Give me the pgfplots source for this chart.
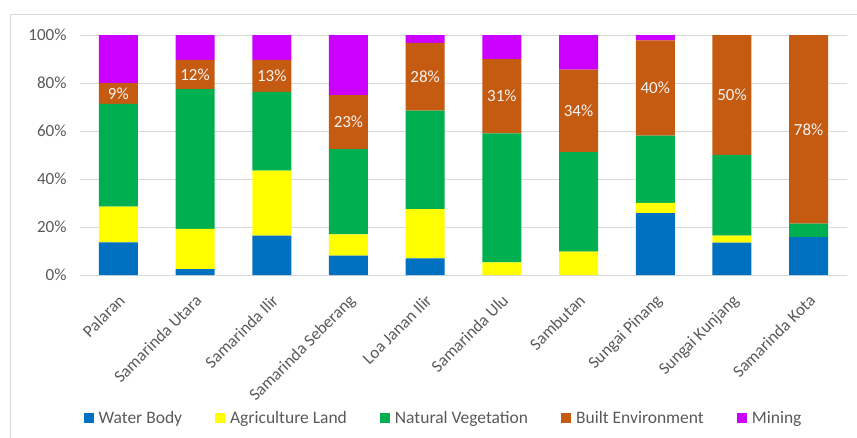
\documentclass[border=0pt]{standalone}
\usepackage{fontspec}
\setmainfont{Carlito}
\usepackage{pgfplots}
\pgfplotsset{compat=1.18}
\definecolor{cwater}{HTML}{0070C0}
\definecolor{cagri}{HTML}{FFFF00}
\definecolor{cveg}{HTML}{00B050}
\definecolor{cbuilt}{HTML}{C55A11}
\definecolor{cmine}{HTML}{CC00FF}
\definecolor{tickc}{HTML}{595959}
\definecolor{gridc}{HTML}{D9D9D9}
\begin{document}
\begin{tikzpicture}
\useasboundingbox (0,0) rectangle (857pt,437pt);
\draw[color=gridc, line width=1pt] (10pt,-5pt) -- (10pt,422pt) -- (862pt,422pt);
\begin{axis}[
  at={(80pt,162pt)}, anchor=south west,
  scale only axis, width=767pt, height=240pt,
  ybar stacked, bar width=39pt,
  xmin=-0.5, xmax=9.5, ymin=0, ymax=100,
  xtick={0,1,2,3,4,5,6,7,8,9},
  xticklabels={Palaran,Samarinda Utara,Samarinda Ilir,Samarinda Seberang,Loa Janan Ilir,Samarinda Ulu,Sambutan,Sungai Pinang,Sungai Kunjang,Samarinda Kota},
  ytick={0,20,40,60,80,100},
  yticklabel={\pgfmathprintnumber[assume math mode=true]{\tick}\%},
  ymajorgrids, grid style={color=gridc, line width=1pt},
  axis line style={draw=none}, major tick length=0pt,
  tick label style={font=\fontsize{17}{20}\selectfont, text=tickc},
  yticklabel style={xshift=-10pt},
  xticklabel style={rotate=45, anchor=north east, yshift=-9pt, xshift=-10pt},
  legend image code/.code={\fill[#1] (0pt,-5pt) rectangle (10pt,5pt);},
  legend columns=5,
  legend style={at={(0.474,-0.596)}, anchor=center, draw=none, fill=none,
    font=\fontsize{17.5}{20}\selectfont, text=tickc,
    /tikz/every odd column/.append style={column sep=3pt},
    /tikz/every even column/.append style={column sep=31pt}},
]
\addplot[fill=cwater, draw=none] coordinates {(0,13.6) (1,2.5) (2,16.4) (3,8.1) (4,6.9) (5,0) (6,0) (7,25.8) (8,13.5) (9,15.8)};
\addplot[fill=cagri, draw=none] coordinates {(0,14.9) (1,16.7) (2,27.1) (3,8.8) (4,20.6) (5,5.3) (6,9.7) (7,4.3) (8,2.9) (9,0)};
\addplot[fill=cveg, draw=none] coordinates {(0,42.8) (1,58.2) (2,32.8) (3,35.5) (4,41.0) (5,53.7) (6,41.5) (7,28.0) (8,33.7) (9,5.6)};
\addplot[fill=cbuilt, draw=none] coordinates {(0,8.7) (1,12.2) (2,13.3) (3,22.6) (4,28.2) (5,31.0) (6,34.4) (7,39.7) (8,49.9) (9,78.6)};
\addplot[fill=cmine, draw=none] coordinates {(0,20.0) (1,10.4) (2,10.4) (3,25.0) (4,3.3) (5,10.0) (6,14.4) (7,2.2) (8,0) (9,0)};
\legend{Water Body,Agriculture Land,Natural Vegetation,Built Environment,Mining}
\end{axis}
\begin{axis}[
  at={(80pt,162pt)}, anchor=south west,
  scale only axis, width=767pt, height=240pt,
  xmin=-0.5, xmax=9.5, ymin=0, ymax=100, hide axis,
]
\addplot[only marks, mark=*, mark size=0pt, mark options={draw=none, fill=none},
  nodes near coords, point meta=explicit symbolic,
  every node near coord/.append style={anchor=center, text=white!92!gray, font=\fontsize{17}{20}\selectfont}]
  coordinates {(0,75.65)[9\%] (1,83.5)[12\%] (2,82.95)[13\%] (3,63.7)[23\%] (4,82.6)[28\%] (5,74.5)[31\%] (6,68.4)[34\%] (7,77.95)[40\%] (8,75.05)[50\%] (9,60.7)[78\%]};
\end{axis}
\end{tikzpicture}
\end{document}
